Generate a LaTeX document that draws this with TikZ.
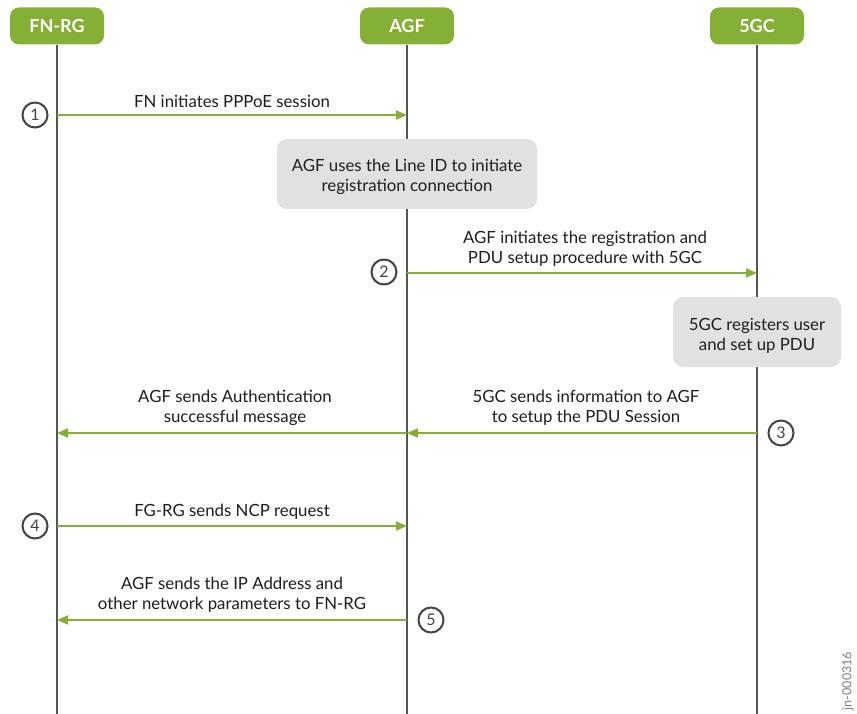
\documentclass[tikz,border=0pt]{standalone}
\usepackage{fontspec}
\setmainfont{Lato}
\usetikzlibrary{arrows.meta}
\definecolor{jgreen}{HTML}{84B135}
\definecolor{jgrey}{HTML}{E1E1E1}
\definecolor{lline}{HTML}{555555}
\definecolor{txt}{HTML}{1E1E1E}
\begin{document}
\begin{tikzpicture}[x=1pt,y=-1pt,
  hdr/.style={fill=jgreen,rounded corners=9pt,minimum width=94pt,minimum height=37pt,text=white,font=\fontsize{18}{20}\selectfont\bfseries,inner sep=0pt},
  life/.style={draw=lline,line width=2pt},
  msg/.style={draw=jgreen,line width=2pt,-{Triangle[length=11pt,width=9pt]}},
  lbl/.style={text=txt,font=\fontsize{16.8}{20}\selectfont,align=center,inner sep=0pt},
  note/.style={fill=jgrey,rounded corners=10pt,inner sep=0pt},
  num/.style={circle,draw=lline!80!black,line width=2pt,minimum size=25pt,inner sep=0pt,text=lline!80!black,font=\fontsize{16}{18}\selectfont}]
\useasboundingbox (0,0) rectangle (857,714);
\fill[white] (0,0) rectangle (857,714);
% headers
\node[hdr] (fn) at (57,26) {FN-RG};
\node[hdr] (agf) at (407,26) {AGF};
\node[hdr] (gc) at (757,26) {5GC};
\coordinate (fnb) at (57,714);
\coordinate (agfb) at (407,714);
\coordinate (gcb) at (757,714);
\draw[life] (fn.south) -- (fnb);
\draw[life] (agf.south) -- (agfb);
\draw[life] (gc.south) -- (gcb);
% notes
\node[note,minimum width=260pt,minimum height=70pt] (n1) at (407,174) {};
\node[lbl] (n1t) at (407,177) {AGF uses the Line ID to initiate\\registration connection};
\node[note,minimum width=168pt,minimum height=70pt] (n2) at (757,332) {};
\node[lbl] (n2t) at (757,336) {5GC registers user\\and set up PDU};
% message endpoints
\coordinate (a1) at (57,115); \coordinate (b1) at (407,115);
\coordinate (a2) at (407,273); \coordinate (b2) at (757,273);
\coordinate (a3) at (757,433); \coordinate (b3) at (407,433);
\coordinate (a3b) at (407,433); \coordinate (b3b) at (57,433);
\coordinate (a4) at (57,526); \coordinate (b4) at (407,526);
\coordinate (a5) at (407,620); \coordinate (b5) at (57,620);
\draw[msg] (a1) -- (b1);
\draw[msg] (a2) -- (b2);
\draw[msg] (a3) -- (b3);
\draw[msg] (a3b) -- (b3b);
\draw[msg] (a4) -- (b4);
\draw[msg] (a5) -- (b5);
% labels
\node[lbl] (l1) at (232,101) {FN initiates PPPoE session};
\node[lbl] (l2) at (585,249) {AGF initiates the registration and\\PDU setup procedure with 5GC};
\node[lbl] (l3) at (586,408) {5GC sends information to AGF\\to setup the PDU Session};
\node[lbl] (l3b) at (235,408) {AGF sends Authentication\\successful message};
\node[lbl] (l4) at (232,512) {FG-RG sends NCP request};
\node[lbl] (l5) at (232,595) {AGF sends the IP Address and\\other network parameters to FN-RG};
% numbers
\node[num] (c1) at (35,115) {1};
\node[num] (c2) at (384,272) {2};
\node[num] (c3) at (781,433) {3};
\node[num] (c4) at (35,526) {4};
\node[num] (c5) at (431,620) {5};
% id
\node[rotate=90,text=gray,font=\fontsize{12.5}{14}\selectfont\fontseries{l}\selectfont,inner sep=0pt] (id) at (848,681) {jn-000316};
\end{tikzpicture}
\end{document}
